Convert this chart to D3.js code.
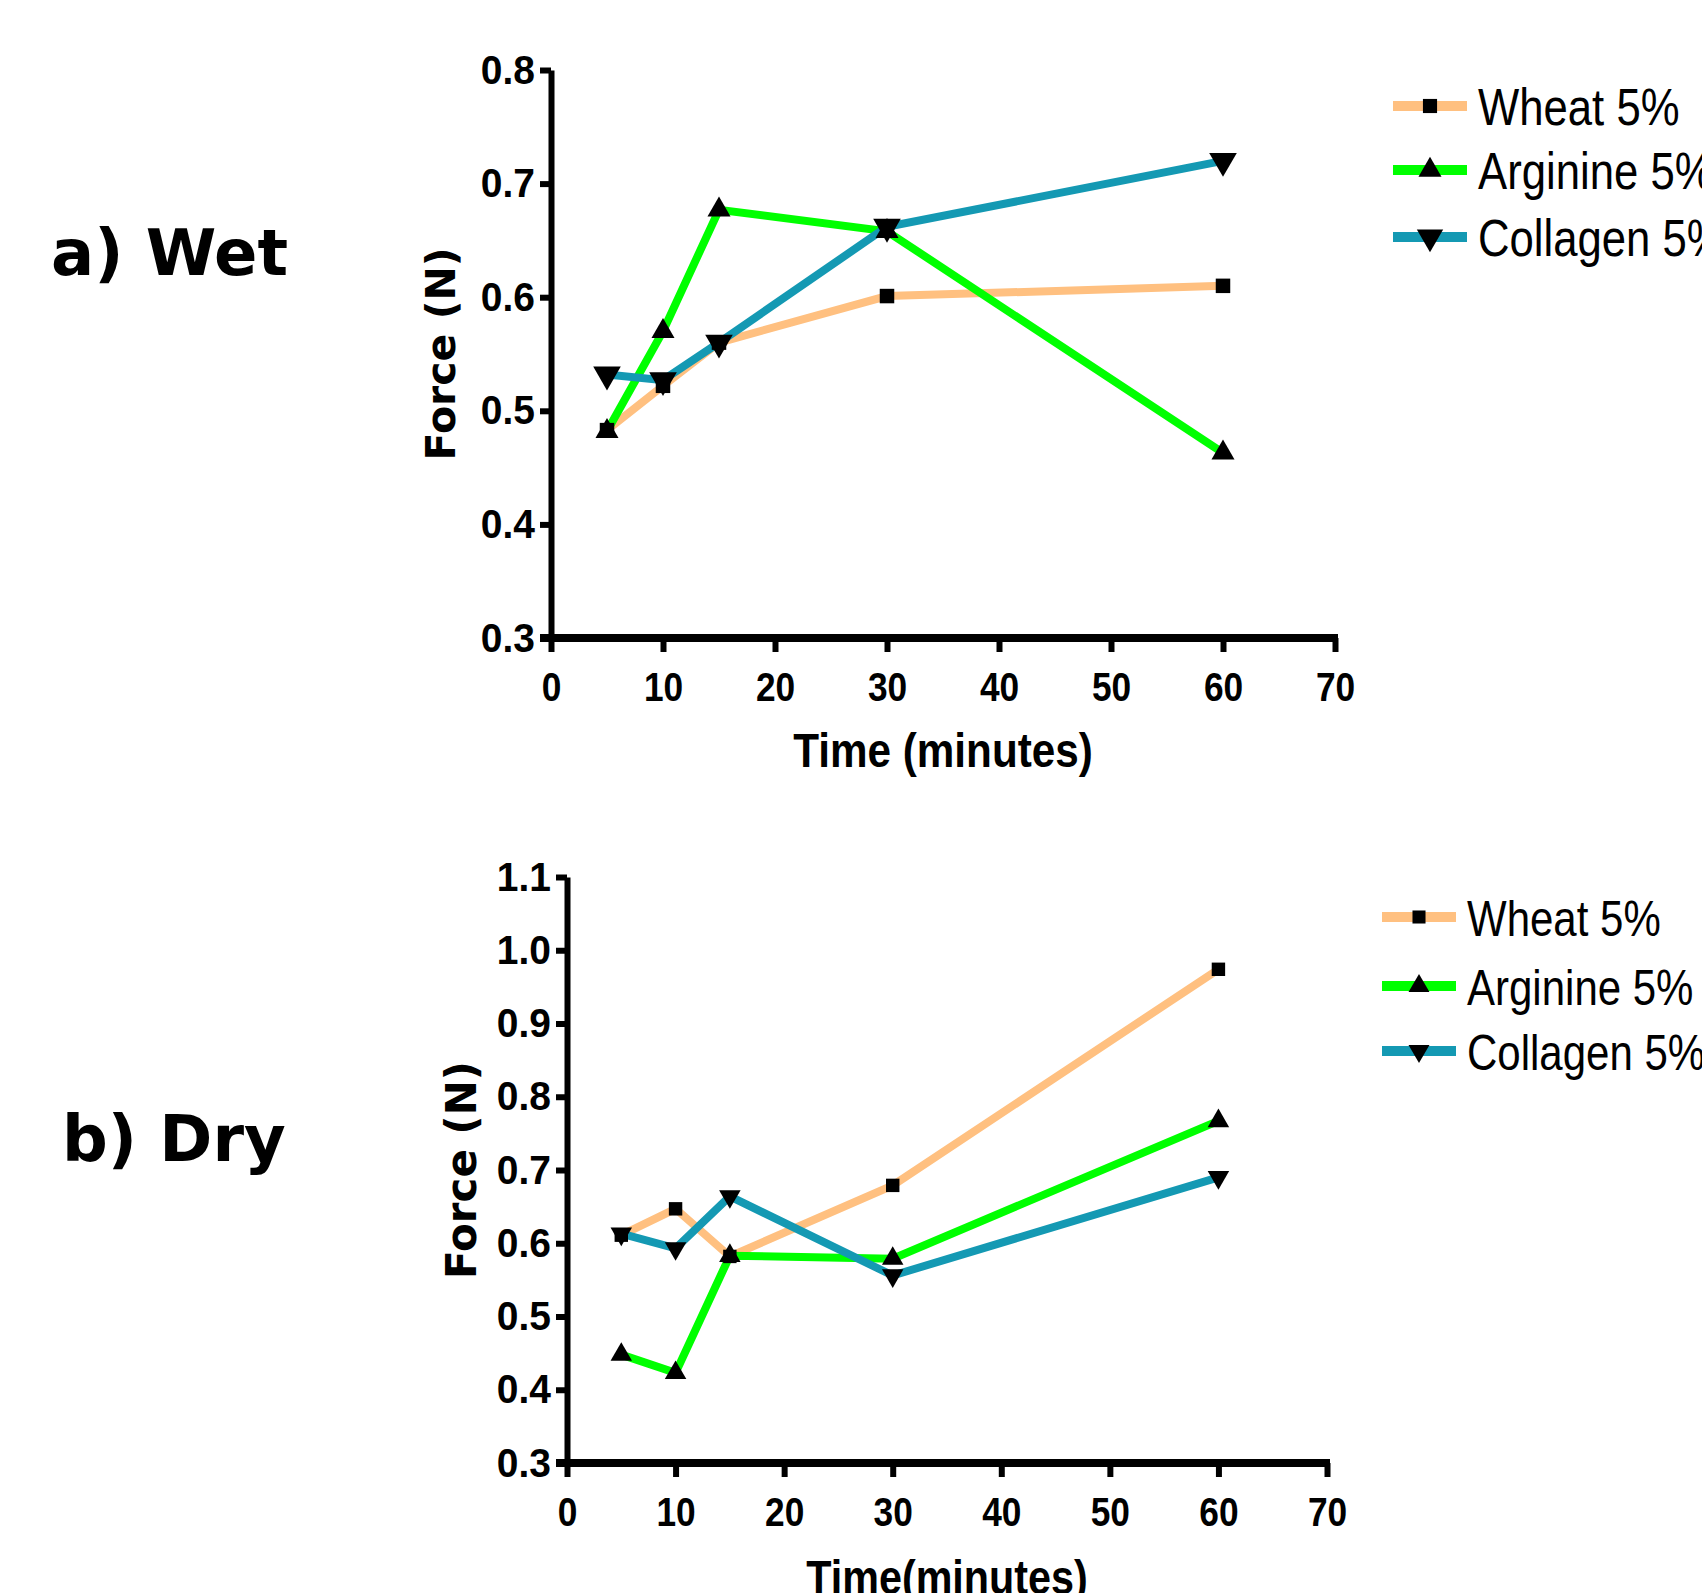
<!DOCTYPE html>
<html>
<head>
<meta charset="utf-8">
<script src="https://cdn.jsdelivr.net/npm/d3@7"></script>
<style>
  body { margin: 0; background: #fff; }
  svg { display: block; }
</style>
</head>
<body>
<svg id="chart" width="1702" height="1593"></svg>
<script>
// values
const minutes = [5, 10, 15, 30, 60];
const seriesNames = ["Wheat 5%", "Arginine 5%", "Collagen 5%"];
const seriesColors = ["#ffc080", "#00ff00", "#1499b3"];
const seriesSymbols = ["square", "up", "down"];

const wetWheat = [0.483, 0.522, 0.560, 0.601, 0.610];
const wetArginine = [0.482, 0.570, 0.677, 0.658, 0.463];
const wetCollagen = [0.532, 0.527, 0.560, 0.662, 0.720];

const dryWheat = [0.611, 0.647, 0.582, 0.679, 0.974];
const dryArginine = [0.448, 0.423, 0.583, 0.579, 0.767];
const dryCollagen = [0.613, 0.593, 0.664, 0.556, 0.690];

const xTicks = [0, 10, 20, 30, 40, 50, 60, 70];
const wetYTicks = [0.3, 0.4, 0.5, 0.6, 0.7, 0.8];
const dryYTicks = [0.3, 0.4, 0.5, 0.6, 0.7, 0.8, 0.9, 1.0, 1.1];

const sans = "'Liberation Sans', Arial, sans-serif";
const wide = "'DejaVu Sans', Verdana, sans-serif";

const svg = d3.select("#chart");

// squeeze text horizontally, the figure uses a narrow face
function squeeze(sel, k){
    sel.each(function(){
        const w = this.getComputedTextLength();
        d3.select(this)
            .attr("textLength", w * k)
            .attr("lengthAdjust", "spacingAndGlyphs");
    });
}

function symbolPath(kind, size){
    if(kind == "square") return d3.symbol(d3.symbolSquare, size)();
    return d3.symbol(d3.symbolTriangle, size)();
}

function panel(cfg){
    const g = svg.append("g");

    const x = d3.scaleLinear().domain([0, 70]).range([cfg.left, cfg.right]);
    const y = d3.scaleLinear().domain(cfg.yDomain).range([cfg.bottom, cfg.top]);

    // panel label
    svg.append("text")
        .attr("x", cfg.labelX).attr("y", cfg.labelY)
        .attr("font-family", wide).attr("font-weight", "bold")
        .attr("font-size", 64)
        .text(cfg.label);

    // y axis
    const ya = g.append("g")
        .attr("transform", "translate(" + cfg.left + ",0)")
        .call(d3.axisLeft(y).tickValues(cfg.yTicks).tickFormat(d3.format(".1f"))
            .tickSize(11).tickPadding(5).tickSizeOuter(0));
    ya.select(".domain").attr("stroke-width", 6).attr("stroke", "#000");
    ya.selectAll(".tick line").attr("stroke-width", 6);
    ya.selectAll("text").attr("font-family", sans).attr("font-weight", "bold")
        .attr("font-size", 41).attr("fill", "#000")
        .call(squeeze, 0.95);

    // x axis
    const xa = g.append("g")
        .attr("transform", "translate(0," + cfg.bottom + ")")
        .call(d3.axisBottom(x).tickValues(xTicks).tickFormat(d3.format("d"))
            .tickSize(14).tickPadding(20).tickSizeOuter(0));
    xa.select(".domain").attr("stroke", "none");
    xa.append("line")
        .attr("x1", cfg.left - 11).attr("x2", cfg.right + 3)
        .attr("stroke", "#000").attr("stroke-width", 8);
    xa.selectAll(".tick line").attr("stroke-width", 6);
    xa.selectAll("text").attr("font-family", sans).attr("font-weight", "bold")
        .attr("font-size", 41).attr("fill", "#000")
        .call(squeeze, 0.86);

    // axis titles
    svg.append("text")
        .attr("x", (cfg.left + cfg.right) / 2).attr("y", cfg.xTitleY)
        .attr("text-anchor", "middle")
        .attr("font-family", sans).attr("font-weight", "bold").attr("font-size", 48)
        .text(cfg.xTitle)
        .call(squeeze, cfg.xTitleK);

    svg.append("text")
        .attr("transform", "translate(" + cfg.yTitleX + "," + (cfg.top + cfg.bottom) / 2 + ") rotate(-90)")
        .attr("text-anchor", "middle")
        .attr("font-family", wide).attr("font-weight", "bold").attr("font-size", cfg.yTitleSize)
        .text("Force (N)");

    const line = d3.line()
        .x((d) => x(d.t))
        .y((d) => y(d.v));

    cfg.series.forEach(function(vals, i){
        const pts = minutes.map((t, j) => ({t: t, v: vals[j]}));
        g.append("path")
            .datum(pts)
            .attr("d", line)
            .attr("fill", "none")
            .attr("stroke", seriesColors[i])
            .attr("stroke-width", 8)
            .attr("stroke-linejoin", "miter");
    });

    cfg.series.forEach(function(vals, i){
        const pts = minutes.map((t, j) => ({t: t, v: vals[j]}));
        const kind = seriesSymbols[i];
        g.selectAll(null)
            .data(pts)
            .enter()
            .append("path")
            .attr("d", symbolPath(kind, cfg.symSize[i]))
            .attr("transform", (d) => "translate(" + x(d.t) + "," + y(d.v) + ")" + (kind == "down" ? " rotate(180)" : ""))
            .attr("fill", "#000");
    });

    // legend
    const lg = svg.append("g");
    seriesNames.forEach(function(name, i){
        const ly = cfg.legendY[i];
        lg.append("line")
            .attr("x1", cfg.legendX).attr("x2", cfg.legendX + 74)
            .attr("y1", ly).attr("y2", ly)
            .attr("stroke", seriesColors[i]).attr("stroke-width", 10);
        lg.append("path")
            .attr("d", symbolPath(seriesSymbols[i], cfg.legSize[i]))
            .attr("transform", "translate(" + (cfg.legendX + 37) + "," + ly + ")" + (seriesSymbols[i] == "down" ? " rotate(180)" : ""))
            .attr("fill", "#000");
        lg.append("text")
            .attr("x", cfg.legendX + 85).attr("y", ly + 19)
            .attr("font-family", sans).attr("font-size", cfg.legendFont)
            .text(name)
            .call(squeeze, 0.84);
    });
}

panel({
    label: "a) Wet", labelX: 51, labelY: 275,
    left: 551, right: 1335, top: 70, bottom: 638,
    yDomain: [0.3, 0.8], yTicks: wetYTicks,
    xTitle: "Time (minutes)", xTitleY: 767, xTitleK: 0.88,
    yTitleX: 455, yTitleSize: 41,
    series: [wetWheat, wetArginine, wetCollagen],
    symSize: [210, 230, 330],
    legendX: 1393, legendY: [106, 170, 237], legSize: [200, 230, 300], legendFont: 52
});

panel({
    label: "b) Dry", labelX: 62, labelY: 1161,
    left: 567, right: 1327, top: 877, bottom: 1463,
    yDomain: [0.3, 1.1], yTicks: dryYTicks,
    xTitle: "Time(minutes)", xTitleY: 1594, xTitleK: 0.86,
    yTitleX: 476, yTitleSize: 42,
    series: [dryWheat, dryArginine, dryCollagen],
    symSize: [180, 200, 200],
    legendX: 1382, legendY: [917, 986, 1051], legSize: [170, 190, 190], legendFont: 50
});
</script>
</body>
</html>
